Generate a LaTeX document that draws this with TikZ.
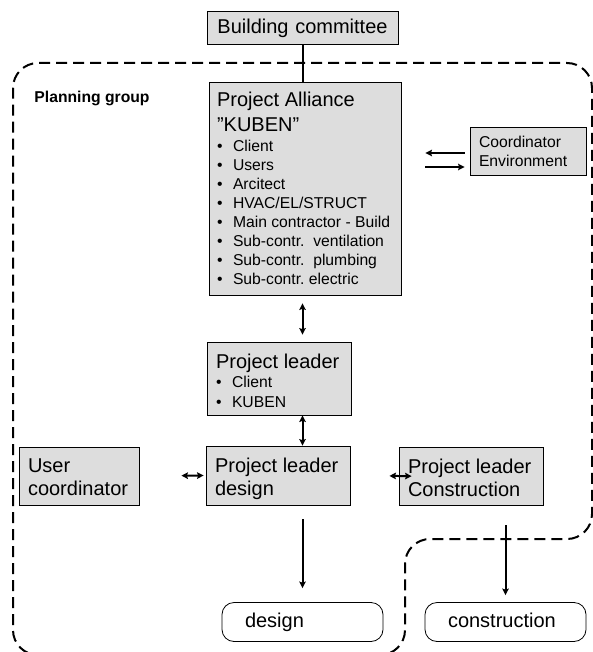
\documentclass[tikz,border=0pt]{standalone}
\usepackage{fontspec}
\setmainfont{Liberation Sans}
\usetikzlibrary{arrows.meta}
\definecolor{boxgray}{RGB}{221,221,221}
\newcommand\bigfont{\fontsize{20}{23}\selectfont}
\newcommand\smallfont{\fontsize{15.7}{19}\selectfont}
\newcommand\itm{\makebox[16pt][l]{\textbullet}}

\begin{document}
\begin{tikzpicture}
  [x=1pt,y=-1pt,>={Stealth[length=6.5pt,width=6.5pt,inset=1pt]},
   box/.style={draw,fill=boxgray,line width=0.8pt,inner xsep=9pt,inner ysep=0pt,align=flush left,font=\bigfont},
   stage/.style={draw,rounded corners=12pt,line width=0.8pt,inner xsep=23pt,inner ysep=0pt,minimum height=39pt,
     text width=115pt,text height=14.5pt,text depth=4.2pt,font=\bigfont},
   link/.style={line width=2pt}]
  \useasboundingbox (0,0) rectangle (593,652);

  \draw [line width=2pt,dash pattern=on 11pt off 6pt,rounded corners=25pt]
    (13,300) -- (13,655) -- (405,655) -- (405,539) -- (592,539) -- (592,63) -- (13,63) -- cycle;

  \node [box,align=center,text width=173pt,minimum height=33pt,text height=17pt,text depth=4.2pt] (bc) at (302.5,27.5) {Building committee};
  \node [font=\bfseries\smallfont,anchor=base] (pg) at (92,103) {Planning group};
  \node [box,font=\smallfont,text width=176pt,inner xsep=8pt,minimum height=213pt] (pa) at (305,188.5)
    {{\bigfont Project Alliance}\\[6pt]{\bigfont ”KUBEN”}\\[1.3pt]
    \itm Client\\\itm Users\\\itm Arcitect\\\itm HVAC/EL/STRUCT\\\itm Main contractor - Build\\
    \itm Sub-contr.\ \ ventilation\\\itm Sub-contr.\ \ plumbing\\\itm Sub-contr.\ electric};
  \node [box,font=\smallfont,text width=98pt,minimum height=48pt] (ce) at (528,151) {Coordinator\\Environment};
  \node [box,font=\smallfont,text width=126pt,minimum height=73pt] (pl) at (279,378.5)
    {{\bigfont\rule{0pt}{19pt}Project leader}\\\itm Client\\[1pt]\itm KUBEN};
  \node [box,text width=126pt,minimum height=59pt] (pld) at (278,475.5) {\rule{0pt}{21.5pt}Project leader\\design};
  \node [box,text width=102pt,minimum height=58pt] (uc) at (79,476) {\rule{0pt}{16.5pt}User\\coordinator};
  \node [box,text width=126pt,minimum height=58pt] (plc) at (471,476) {\rule{0pt}{18pt}Project leader\\Construction};
  \node [stage] (des) at (302.5,622) {design};
  \node [stage] (con) at (505.5,622) {construction};

  \draw [link] (bc.south) -- (bc.south |- pa.north);
  \draw [link,<->,shorten <=8pt,shorten >=7pt] (pa.south -| bc) -- (pl.north -| bc);
  \draw [link,<->] (pl.south -| bc) -- (pld.north -| bc);
  \draw [link,<->,shorten <=42pt,shorten >=2pt] (uc.east) -- (pld.west);
  \draw [link,<->,shorten <=39pt,shorten >=-13pt] (pld.east) -- (plc.west);
  \draw [link,->,shorten <=14pt,shorten >=14pt] (pld.south -| des) -- (des);
  \draw [link,->,shorten <=20pt,shorten >=7pt] (plc.south -| con) -- (con);
  \draw [link,->,shorten <=24pt,shorten >=5pt] ([yshift=-16pt]ce.west -| pa.east) -- ([yshift=-16pt]ce.west);
  \draw [link,->,shorten <=5pt,shorten >=24pt] ([yshift=-2pt]ce.west) -- ([yshift=-2pt]ce.west -| pa.east);

\end{tikzpicture}
\end{document}
